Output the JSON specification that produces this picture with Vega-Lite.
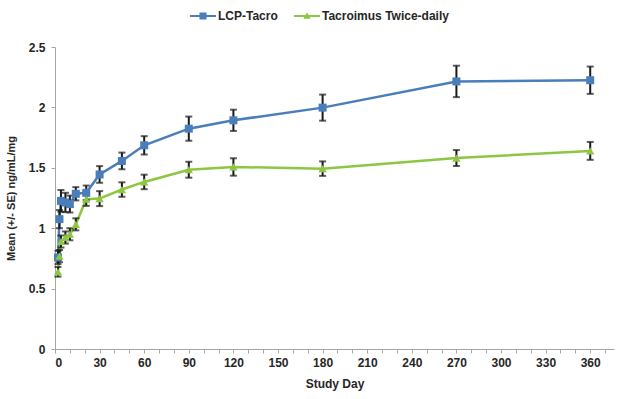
{
  "$schema": "https://vega.github.io/schema/vega-lite/v6.json",
  "autosize": "none",
  "width": 559,
  "height": 302,
  "padding": {"left": 55, "top": 47, "right": 4, "bottom": 50},
  "background": "white",
  "config": {
    "view": {"stroke": null},
    "font": "Liberation Sans",
    "axis": {
      "labelFont": "Liberation Sans",
      "labelFontWeight": "bold",
      "labelFontSize": 12,
      "labelColor": "#262626",
      "titleFont": "Liberation Sans",
      "titleFontWeight": "bold",
      "titleColor": "#262626",
      "domainColor": "#A6A6A6",
      "tickColor": "#A6A6A6",
      "grid": false
    }
  },
  "data": {
    "values": [
      {"series": "LCP-Tacro", "day": 2, "mean": 0.758, "se": 0.055},
      {"series": "LCP-Tacro", "day": 3, "mean": 1.075, "se": 0.075},
      {"series": "LCP-Tacro", "day": 4, "mean": 1.226, "se": 0.09},
      {"series": "LCP-Tacro", "day": 7, "mean": 1.213, "se": 0.08},
      {"series": "LCP-Tacro", "day": 10, "mean": 1.2, "se": 0.07},
      {"series": "LCP-Tacro", "day": 14, "mean": 1.285, "se": 0.055},
      {"series": "LCP-Tacro", "day": 21, "mean": 1.293, "se": 0.06},
      {"series": "LCP-Tacro", "day": 30, "mean": 1.445, "se": 0.069},
      {"series": "LCP-Tacro", "day": 45, "mean": 1.557, "se": 0.069},
      {"series": "LCP-Tacro", "day": 60, "mean": 1.686, "se": 0.076},
      {"series": "LCP-Tacro", "day": 90, "mean": 1.824, "se": 0.1},
      {"series": "LCP-Tacro", "day": 120, "mean": 1.893, "se": 0.088},
      {"series": "LCP-Tacro", "day": 180, "mean": 1.998, "se": 0.108},
      {"series": "LCP-Tacro", "day": 270, "mean": 2.215, "se": 0.13},
      {"series": "LCP-Tacro", "day": 360, "mean": 2.225, "se": 0.113},
      {"series": "Tacroimus Twice-daily", "day": 2, "mean": 0.639, "se": 0.04},
      {"series": "Tacroimus Twice-daily", "day": 3, "mean": 0.769, "se": 0.05},
      {"series": "Tacroimus Twice-daily", "day": 4, "mean": 0.89, "se": 0.05},
      {"series": "Tacroimus Twice-daily", "day": 7, "mean": 0.923, "se": 0.05},
      {"series": "Tacroimus Twice-daily", "day": 10, "mean": 0.95, "se": 0.05},
      {"series": "Tacroimus Twice-daily", "day": 14, "mean": 1.032, "se": 0.05},
      {"series": "Tacroimus Twice-daily", "day": 21, "mean": 1.24, "se": 0.055},
      {"series": "Tacroimus Twice-daily", "day": 30, "mean": 1.245, "se": 0.062},
      {"series": "Tacroimus Twice-daily", "day": 45, "mean": 1.32, "se": 0.06},
      {"series": "Tacroimus Twice-daily", "day": 60, "mean": 1.383, "se": 0.06},
      {"series": "Tacroimus Twice-daily", "day": 90, "mean": 1.484, "se": 0.066},
      {"series": "Tacroimus Twice-daily", "day": 120, "mean": 1.507, "se": 0.072},
      {"series": "Tacroimus Twice-daily", "day": 180, "mean": 1.493, "se": 0.06},
      {"series": "Tacroimus Twice-daily", "day": 270, "mean": 1.581, "se": 0.066},
      {"series": "Tacroimus Twice-daily", "day": 360, "mean": 1.64, "se": 0.074}
    ]
  },
  "encoding": {
    "x": {
      "field": "day",
      "type": "quantitative",
      "scale": {"domain": [0, 376], "nice": false},
      "axis": {
        "title": "Study Day",
        "titleFontSize": 12,
        "titlePadding": 10,
        "values": [0,10,20,30,40,50,60,70,80,90,100,110,120,130,140,150,160,170,180,190,200,210,220,230,240,250,260,270,280,290,300,310,320,330,340,350,360,370],
        "labelExpr": "datum.value % 30 === 0 ? datum.label : ''",
        "labelOverlap": false,
        "tickSize": 4,
        "labelPadding": 4
      }
    },
    "y": {
      "field": "mean",
      "type": "quantitative",
      "scale": {"domain": [0, 2.5], "nice": false},
      "axis": {
        "title": "Mean (+/- SE) ng/mL/mg",
        "titleFontSize": 11,
        "titlePadding": 12,
        "values": [0, 0.5, 1, 1.5, 2, 2.5],
        "format": ".1~f",
        "tickSize": 4,
        "labelPadding": 6
      }
    },
    "color": {
      "field": "series",
      "type": "nominal",
      "scale": {"domain": ["LCP-Tacro", "Tacroimus Twice-daily"], "range": ["#4A7EBB", "#8DC641"]},
      "legend": {
        "orient": "none",
        "legendX": 135,
        "legendY": -44,
        "direction": "horizontal",
        "title": null,
        "labelFont": "Liberation Sans",
        "labelFontWeight": "bold",
        "labelFontSize": 12,
        "labelColor": "#262626",
        "symbolSize": 676,
        "symbolStrokeWidth": 0,
        "symbolOpacity": 1,
        "columnPadding": 16,
        "labelOffset": 2,
        "encode": {
          "symbols": {
            "update": {
              "shape": {"signal": "datum.value === 'LCP-Tacro' ? 'M-1,-0.08L1,-0.08L1,0.08L-1,0.08Z M-0.27,-0.27L0.27,-0.27L0.27,0.27L-0.27,0.27Z' : 'M-1,-0.08L1,-0.08L1,0.08L-1,0.08Z M-0.28,0.22L0,-0.28L0.28,0.22Z'"},
              "fill": {"scale": "color", "field": "value"},
              "strokeWidth": {"value": 0}
            }
          }
        }
      }
    }
  },
  "layer": [
    {
      "mark": {"type": "line", "strokeWidth": 2.5}
    },
    {
      "mark": {"type": "errorbar", "ticks": {"size": 7, "color": "#1A1A1A", "thickness": 2}, "color": "#1A1A1A", "thickness": 2},
      "encoding": {
        "yError": {"field": "se"},
        "color": {"value": "#1A1A1A"},
        "detail": {"field": "series"}
      }
    },
    {
      "transform": [{"filter": "datum.series === 'LCP-Tacro'"}],
      "mark": {"type": "point", "filled": true, "size": 64, "opacity": 1, "shape": "square"}
    },
    {
      "transform": [{"filter": "datum.series === 'Tacroimus Twice-daily'"}],
      "mark": {"type": "point", "filled": true, "size": 70, "opacity": 1, "shape": "triangle-up"}
    }
  ]
}
